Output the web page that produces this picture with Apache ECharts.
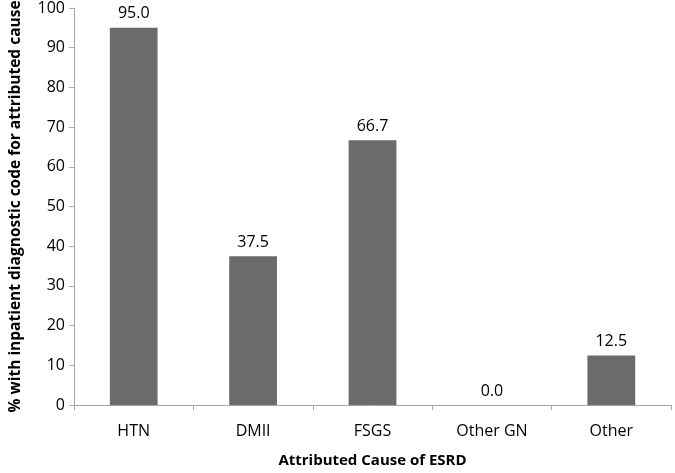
<!DOCTYPE html>
<html>
<head>
<meta charset="utf-8">
<script src="https://cdn.jsdelivr.net/npm/echarts@6/dist/echarts.min.js"></script>
<style>
  html, body { margin: 0; padding: 0; background: #fff; }
  #chart { width: 675px; height: 473px; }
</style>
</head>
<body>
<div id="chart"></div>
<script>
const causes = ['HTN', 'DMII', 'FSGS', 'Other GN', 'Other']
const percents = [95.0, 37.5, 66.7, 0.0, 12.5]

const font = "'Open Sans', 'Noto Sans', sans-serif"
const axisGray = '#a6a6a6'

const chart = echarts.init(document.getElementById('chart'))

chart.setOption({
  animation: false,
  textStyle: { fontFamily: font },
  grid: { left: 64, right: 4, top: 7, bottom: 60, containLabel: false },
  xAxis: {
    type: 'category',
    data: causes,
    name: 'Attributed Cause of ESRD',
    nameLocation: 'middle',
    nameGap: 48,
    nameTextStyle: { fontSize: 15, fontWeight: 'bold', color: '#000', fontFamily: font },
    axisLine: { lineStyle: { color: axisGray, width: 1 } },
    axisTick: { show: true, alignWithLabel: false, length: 5, lineStyle: { color: axisGray } },
    axisLabel: { fontSize: 16, color: '#000', margin: 18, fontFamily: font }
  },
  yAxis: {
    type: 'value',
    min: 0,
    max: 100,
    interval: 10,
    name: '% with inpatient diagnostic code for attributed cause',
    nameLocation: 'middle',
    nameGap: 50,
    nameRotate: 90,
    nameTextStyle: { fontSize: 15.5, fontWeight: 'bold', color: '#000', fontFamily: font },
    axisLine: { show: true, lineStyle: { color: axisGray, width: 1 } },
    axisTick: { show: true, length: 5, lineStyle: { color: axisGray } },
    splitLine: { show: false },
    axisLabel: { fontSize: 16, color: '#000', margin: 9, fontFamily: font }
  },
  series: [{
    type: 'bar',
    data: percents,
    barWidth: '40%',
    itemStyle: { color: '#6b6b6b' },
    label: {
      show: true,
      position: 'top',
      distance: 6,
      fontSize: 16,
      color: '#000',
      fontFamily: font,
      formatter: p => p.value.toFixed(1)
    }
  }]
})
</script>
</body>
</html>
